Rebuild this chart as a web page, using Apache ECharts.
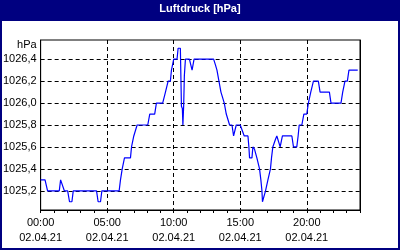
<!DOCTYPE html>
<html><head><meta charset="utf-8">
<script src="https://cdn.jsdelivr.net/npm/echarts@6/dist/echarts.min.js"></script>
<style>html,body{margin:0;padding:0;background:#fff}#c{width:400px;height:250px}</style>
</head><body><div id="c"></div>
<script>
const titleText = 'Luftdruck [hPa]';
const unitLabel = 'hPa';
const dateLabel = '02.04.21';
const yTicks = [1025.2, 1025.4, 1025.6, 1025.8, 1026.0, 1026.2, 1026.4];
const xLabelHours = [0, 5, 10, 15, 20];

const hours = [
  0.0, 0.33, 0.52, 1.4, 1.5, 1.65, 1.78, 2.03, 2.17, 2.35, 2.45,
  4.2, 4.32, 4.5, 4.6, 5.9, 6.0, 6.13, 6.3, 6.75, 6.83, 7.0, 7.25,
  8.05, 8.2, 8.57, 8.7, 9.17, 9.38, 9.58, 9.75, 9.83, 10.0, 10.25,
  10.33, 10.5, 10.58, 10.65, 10.69, 10.75, 10.8, 10.88, 11.18, 11.38,
  11.53, 13.0, 13.13, 13.25, 13.37, 13.55, 13.7, 13.8, 13.95, 14.2,
  14.38, 14.5, 14.7, 15.0, 15.3, 15.58, 15.65, 15.7, 15.88, 15.95,
  16.07, 16.25, 16.45, 16.55, 16.63, 16.67, 16.82, 16.9, 17.08, 17.2,
  17.27, 17.35, 17.45, 17.65, 17.75, 17.87, 18.0, 18.17, 18.88, 19.0,
  19.25, 19.35, 19.43, 19.63, 19.78, 20.0, 20.12, 20.3, 20.5, 20.87,
  21.0, 21.7, 21.82, 22.57, 22.7, 22.87, 23.05, 23.17, 23.83
];
const pressure = [
  1025.3, 1025.3, 1025.2, 1025.2, 1025.3, 1025.3, 1025.2, 1025.2, 1025.1, 1025.1, 1025.2,
  1025.2, 1025.1, 1025.1, 1025.2, 1025.2, 1025.3, 1025.4, 1025.5, 1025.5, 1025.6, 1025.7, 1025.8,
  1025.8, 1025.9, 1025.9, 1026.0, 1026.0, 1026.1, 1026.2, 1026.2, 1026.3, 1026.4, 1026.4,
  1026.5, 1026.5, 1025.97, 1025.95, 1025.8, 1025.98, 1026.25, 1026.4, 1026.4, 1026.3,
  1026.4, 1026.4, 1026.35, 1026.3, 1026.3, 1026.1, 1026.1, 1026.0, 1025.9, 1025.8,
  1025.8, 1025.7, 1025.8, 1025.8, 1025.7, 1025.7, 1025.6, 1025.5, 1025.5, 1025.6,
  1025.58, 1025.5, 1025.4, 1025.3, 1025.2, 1025.1, 1025.1, 1025.2, 1025.3, 1025.3,
  1025.4, 1025.5, 1025.6, 1025.67, 1025.7, 1025.7, 1025.6, 1025.7, 1025.7, 1025.6,
  1025.6, 1025.7, 1025.8, 1025.8, 1025.9, 1025.9, 1026.0, 1026.1, 1026.2, 1026.2,
  1026.1, 1026.1, 1026.0, 1026.0, 1026.1, 1026.2, 1026.2, 1026.3, 1026.3
];

const FONT = "'Liberation Sans Narrow', 'Liberation Sans', Arial, sans-serif";
const NAVY = '#000080';
const data = hours.map((h, i) => [h, pressure[i]]);
const pad = n => (n < 10 ? '0' : '') + n;

const chart = echarts.init(document.getElementById('c'), null, {renderer: 'canvas'});
chart.setOption({
  animation: false,
  backgroundColor: '#fff',
  graphic: [
    {type: 'rect', z: -1, shape: {x: 0, y: 0, width: 400, height: 21}, style: {fill: NAVY}},
    {type: 'rect', z: 100, shape: {x: 1, y: 1, width: 398, height: 248}, style: {fill: 'none', stroke: NAVY, lineWidth: 2}}
  ],
  title: {
    text: titleText, left: 'center', top: 3, padding: 0,
    textStyle: {color: '#fff', fontSize: 11, fontWeight: 'bold', fontFamily: 'Liberation Sans, Arial, sans-serif'}
  },
  grid: {left: 40, right: 40, top: 40, bottom: 40, show: true, borderColor: '#000', borderWidth: 1, containLabel: false},
  xAxis: [
    {
      type: 'value', min: 0, max: 24, interval: 1, position: 'bottom',
      axisLine: {show: true, lineStyle: {color: '#000', width: 1}},
      axisTick: {show: true, length: 3, inside: false, lineStyle: {color: '#000'}},
      axisLabel: {
        margin: 5, color: '#000', fontSize: 11, fontFamily: FONT, lineHeight: 15,
        formatter: v => (xLabelHours.indexOf(v) >= 0 ? pad(v) + ':00\n' + dateLabel : '')
      },
      splitLine: {show: false}
    },
    {
      type: 'value', min: 0, max: 24, interval: 5, position: 'bottom',
      axisLine: {show: false}, axisTick: {show: false}, axisLabel: {show: false},
      splitLine: {show: true, showMinLine: false, showMaxLine: false, lineStyle: {color: '#000', type: [4, 3], width: 1}}
    }
  ],
  yAxis: [
    {
      type: 'value', min: 1025.025, max: 1026.575,
      name: unitLabel, nameLocation: 'end', nameGap: -5,
      nameTextStyle: {color: '#000', fontSize: 11, fontFamily: FONT, align: 'right', verticalAlign: 'middle', padding: [0, 4, 0, 0]},
      axisLine: {show: true, lineStyle: {color: '#000'}},
      axisTick: {show: false, customValues: yTicks},
      axisLabel: {
        customValues: yTicks, margin: 4, color: '#000', fontSize: 11, fontFamily: FONT,
        formatter: v => v.toFixed(1).replace('.', ',')
      },
      splitLine: {show: true, lineStyle: {color: '#000', type: [4, 3], width: 1}}
    },
    {
      type: 'value', min: 1025.025, max: 1026.575, position: 'right',
      axisLine: {show: true, onZero: false, lineStyle: {color: '#000'}},
      axisTick: {show: false}, axisLabel: {show: false}, splitLine: {show: false}
    }
  ],
  series: [{
    type: 'line', xAxisIndex: 0, yAxisIndex: 0, data: data, showSymbol: false, symbol: 'none',
    lineStyle: {color: '#0000ff', width: 1.2}, z: 5
  }]
});
</script></body></html>
